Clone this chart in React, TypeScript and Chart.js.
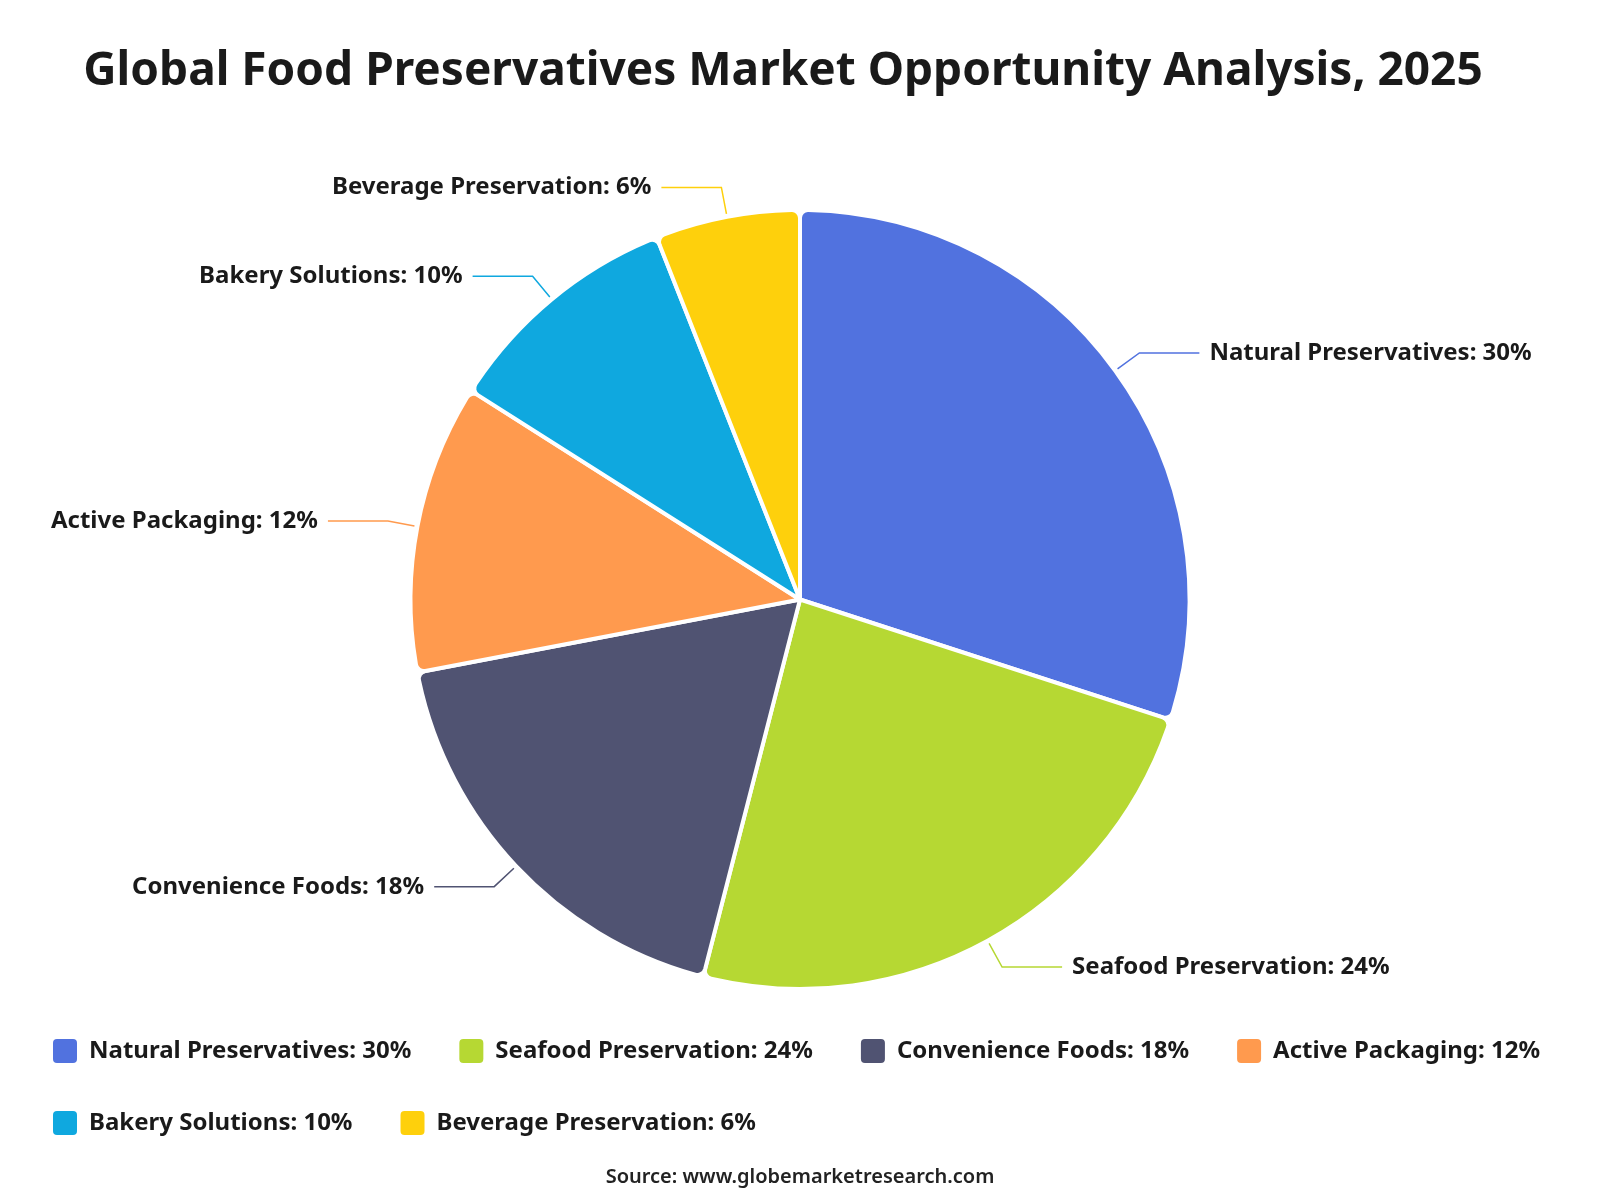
import React, { useEffect, useRef } from "react";
import { Chart, registerables } from "chart.js";

Chart.register(...registerables);

const categories = [
  "Natural Preservatives",
  "Seafood Preservation",
  "Convenience Foods",
  "Active Packaging",
  "Bakery Solutions",
  "Beverage Preservation",
];
const shares = [30, 24, 18, 12, 10, 6];
const colors = ["#5172DF", "#B6D833", "#505372", "#FF9A4E", "#0FA8DF", "#FED00C"];
const titleText = "Global Food Preservatives Market Opportunity Analysis, 2025";
const sourceText = "Source: www.globemarketresearch.com";

const FONT = "'Noto Sans', 'Open Sans', sans-serif";
const TEXT_COLOR = "#1a1a1a";

const labelText = (i: number) => `${categories[i]}: ${shares[i]}%`;

const titlePlugin = {
  id: "titleText",
  afterDraw(chart: any) {
    const ctx = chart.ctx;
    ctx.save();
    ctx.font = `bold 46px ${FONT}`;
    ctx.fillStyle = TEXT_COLOR;
    ctx.textAlign = "center";
    ctx.textBaseline = "middle";
    ctx.fillText(titleText, chart.width / 2 - 17, 64);
    ctx.restore();
  },
};

const outsideLabels = {
  id: "outsideLabels",
  afterDatasetsDraw(chart: any) {
    const ctx = chart.ctx;
    const meta = chart.getDatasetMeta(0);
    ctx.save();
    ctx.font = `bold 24px ${FONT}`;
    ctx.textBaseline = "middle";
    meta.data.forEach((arc: any, i: number) => {
      const { x, y, startAngle, endAngle, outerRadius } = arc.getProps(
        ["x", "y", "startAngle", "endAngle", "outerRadius"],
        true
      );
      const mid = (startAngle + endAngle) / 2;
      const cos = Math.cos(mid);
      const sin = Math.sin(mid);
      const r1 = outerRadius + 3;
      const r2 = outerRadius + 30;
      const x1 = x + cos * r1;
      const y1 = y + sin * r1;
      const x2 = x + cos * r2;
      const y2 = y + sin * r2;
      const right = cos >= 0;
      const x3 = x2 + (right ? 60 : -60);
      ctx.strokeStyle = colors[i];
      ctx.lineWidth = 1.5;
      ctx.beginPath();
      ctx.moveTo(x1, y1);
      ctx.lineTo(x2, y2);
      ctx.lineTo(x3, y2);
      ctx.stroke();
      ctx.fillStyle = TEXT_COLOR;
      ctx.textAlign = right ? "left" : "right";
      ctx.fillText(labelText(i), x3 + (right ? 10 : -10), y2);
    });
    ctx.restore();
  },
};

export default function App() {
  const ref = useRef<HTMLCanvasElement>(null);
  useEffect(() => {
    if (!ref.current) return;
    const chart = new Chart(ref.current, {
      type: "pie",
      data: {
        labels: categories.map((_, i) => labelText(i)),
        datasets: [
          {
            data: shares,
            backgroundColor: colors,
            borderColor: "#ffffff",
            borderWidth: 4,
            borderRadius: 8,
          },
        ],
      },
      options: {
        animation: false,
        responsive: true,
        maintainAspectRatio: false,
        layout: { padding: { top: 200, left: -3, right: -3, bottom: 0 } },
        plugins: {
          title: { display: false },
          subtitle: {
            display: true,
            position: "bottom",
            text: sourceText,
            color: "#222222",
            font: { family: FONT, size: 20, weight: "600" },
            padding: { top: 20, bottom: 3 },
          },
          legend: {
            display: true,
            position: "bottom",
            align: "start",
            labels: {
              boxWidth: 24,
              boxHeight: 24,
              padding: 48,
              color: TEXT_COLOR,
              font: { family: FONT, size: 24, weight: "bold" },
              generateLabels: () =>
                categories.map((_, i) => ({
                  text: labelText(i),
                  fillStyle: colors[i],
                  strokeStyle: colors[i],
                  lineWidth: 0,
                  borderRadius: 4,
                  fontColor: TEXT_COLOR,
                  hidden: false,
                  index: i,
                })),
            },
          },
          tooltip: { enabled: false },
        },
      },
      plugins: [outsideLabels, titlePlugin],
    });
    return () => chart.destroy();
  }, []);
  return (
    <div style={{ width: "100%", height: "1184px", position: "relative" }}>
      <canvas ref={ref} />
    </div>
  );
}
